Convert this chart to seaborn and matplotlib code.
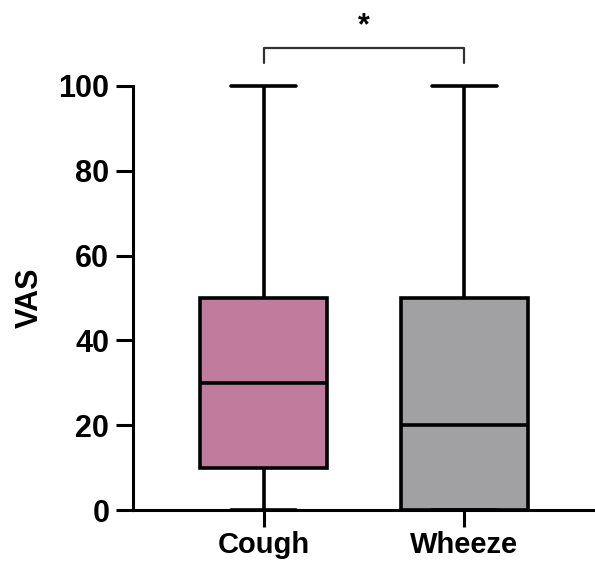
import matplotlib
matplotlib.use("Agg")
import matplotlib.pyplot as plt
import seaborn as sns
import pandas as pd

# Five-number summaries (min, Q1, median, Q3, max) for each symptom
groups = ["Cough", "Wheeze"]
cough_vas = [0, 10, 30, 50, 100]
wheeze_vas = [0, 0, 20, 50, 100]
box_colors = ["#C07C9C", "#A1A1A3"]
y_ticks = [0, 20, 40, 60, 80, 100]
sig_label = "*"

df = pd.DataFrame({
    "group": ["Cough"] * len(cough_vas) + ["Wheeze"] * len(wheeze_vas),
    "VAS": cough_vas + wheeze_vas,
})

sns.set_style("ticks")
plt.rcParams["font.family"] = ["Liberation Sans", "DejaVu Sans"]
plt.rcParams["font.weight"] = "bold"
plt.rcParams["text.color"] = "black"
plt.rcParams["axes.labelcolor"] = "black"
plt.rcParams["xtick.color"] = "black"
plt.rcParams["ytick.color"] = "black"

fig = plt.figure(figsize=(5.95, 5.62), dpi=100)
ax = fig.add_axes([0.2235, 0.0925, 0.7765, 0.7545])

sns.boxplot(
    data=df, x="group", y="VAS", hue="group", order=groups,
    palette=dict(zip(groups, box_colors)), legend=False, saturation=1,
    whis=(0, 100), width=0.63, linewidth=2.6, linecolor="black",
    showfliers=False, capwidths=0.32, ax=ax,
)
for art in ax.patches + ax.lines:
    art.set_clip_on(False)

ax.set_ylim(0, 100)
ax.set_xlim(-0.65, 1.65)
ax.set_yticks(y_ticks)
ax.set_xlabel("")
ax.set_ylabel("VAS", fontsize=22, fontweight="bold", labelpad=10, color="black")
ax.tick_params(axis="y", length=12, width=2.2, labelsize=22, pad=5,
               color="black", labelcolor="black")
ax.tick_params(axis="x", bottom=True, direction="out", length=12, width=2.2,
               labelsize=21, pad=3, color="black", labelcolor="black")
for lbl in ax.get_xticklabels() + ax.get_yticklabels():
    lbl.set_fontweight("bold")

sns.despine(ax=ax, top=True, right=True)
for side in ("left", "bottom"):
    ax.spines[side].set_linewidth(2.2)
    ax.spines[side].set_color("black")

# Significance bracket between the two groups
y_top, y_drop = 109, 105.5
ax.plot([0, 0, 1, 1], [y_drop, y_top, y_top, y_drop], color="#333333",
        lw=1.6, clip_on=False)
ax.text(0.5, y_top + 1.5, sig_label, ha="center", va="bottom",
        fontsize=22, fontweight="bold", clip_on=False)

fig.savefig("out.png", dpi=100)
